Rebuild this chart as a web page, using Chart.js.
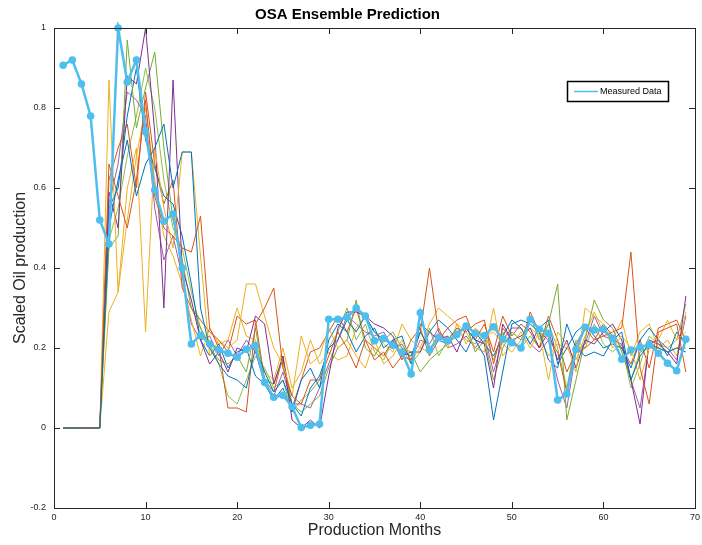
<!DOCTYPE html>
<html>
<head>
<meta charset="utf-8">
<title>OSA Ensemble Prediction</title>
<script src="https://cdn.jsdelivr.net/npm/chart.js@4.4.1/dist/chart.umd.min.js"></script>
<style>
  html, body { margin: 0; padding: 0; background: #ffffff; }
  #wrap { width: 702px; height: 545px; }
</style>
</head>
<body>
<div id="wrap"><canvas id="chart-osa" width="702" height="545"></canvas></div>
<script>
/* ═══════════════════════════════════════════
   OSA Ensemble Prediction — data
   ═══════════════════════════════════════════ */

var months = [];
for (var m = 1; m <= 69; m++) months.push(m);

var xTicks = [0, 10, 20, 30, 40, 50, 60, 70];
var yTicks = [-0.2, 0, 0.2, 0.4, 0.6, 0.8, 1];

var measured = [
  0.907, 0.92, 0.86, 0.78, 0.52,
  0.46, 1.0, 0.865, 0.92, 0.74,
  0.595, 0.517, 0.535, 0.40, 0.21,
  0.232, 0.21, 0.195, 0.187, 0.177,
  0.197, 0.206, 0.114, 0.077, 0.082,
  0.053, 0.001, 0.007, 0.01, 0.272,
  0.272, 0.276, 0.30, 0.28, 0.218,
  0.224, 0.207, 0.19, 0.135, 0.288,
  0.195, 0.226, 0.218, 0.234, 0.255,
  0.237, 0.231, 0.253, 0.222, 0.213,
  0.20, 0.272, 0.247, 0.237, 0.07,
  0.085, 0.197, 0.252, 0.245, 0.247,
  0.224, 0.172, 0.195, 0.202, 0.209,
  0.187, 0.162, 0.143, 0.222
];

// ensemble members (months 1..69)
var ensBlue1 = [
  0, 0, 0, 0, 0,
  0.50, 0.62, 0.72, 0.58, 0.66,
  0.70, 0.76, 0.60, 0.69, 0.69,
  0.30, 0.20, 0.16, 0.13, 0.12,
  0.10, 0.20, 0.14, 0.09, 0.12,
  0.06, 0.03, 0.10, 0.13, 0.20,
  0.22, 0.27, 0.24, 0.28, 0.24,
  0.22, 0.21, 0.19, 0.18, 0.24,
  0.20, 0.22, 0.21, 0.24, 0.25,
  0.22, 0.18, 0.02, 0.14, 0.26,
  0.27, 0.26, 0.24, 0.17, 0.15,
  0.26, 0.20, 0.18, 0.19, 0.18,
  0.22, 0.24, 0.12, 0.18, 0.21,
  0.20, 0.19, 0.20, 0.19
];
var ensOrange1 = [
  0, 0, 0, 0, 0,
  0.66, 0.58, 0.50, 0.62, 0.82,
  0.58, 0.50, 0.48, 0.45, 0.44,
  0.53, 0.25, 0.20, 0.05, 0.05,
  0.04, 0.26, 0.30, 0.35, 0.15,
  0.08, 0.06, 0.12, 0.12, 0.18,
  0.24, 0.20, 0.15, 0.22, 0.17,
  0.19, 0.15, 0.18, 0.17, 0.24,
  0.40, 0.24, 0.22, 0.25, 0.24,
  0.26, 0.27, 0.16, 0.25, 0.22,
  0.20, 0.29, 0.24, 0.22, 0.19,
  0.09, 0.21, 0.25, 0.22, 0.23,
  0.24, 0.25, 0.44, 0.15, 0.06,
  0.24, 0.25, 0.26, 0.14
];
var ensYellow1 = [
  0, 0, 0, 0, 0,
  0.87, 0.34, 0.60, 0.70, 0.24,
  0.70, 0.55, 0.45, 0.69, 0.69,
  0.43, 0.18, 0.22, 0.20, 0.22,
  0.36, 0.36, 0.28, 0.20, 0.16,
  0.08, 0.23, 0.16, 0.18, 0.25,
  0.20, 0.22, 0.18, 0.15, 0.22,
  0.16, 0.18, 0.22, 0.17, 0.20,
  0.26, 0.30, 0.28, 0.26, 0.24,
  0.20, 0.19, 0.30, 0.18, 0.21,
  0.24, 0.20, 0.24, 0.12, 0.24,
  0.21, 0.14, 0.30, 0.28, 0.26,
  0.20, 0.23, 0.20, 0.12, 0.20,
  0.22, 0.27, 0.22, 0.24
];
var ensPurple1 = [
  0, 0, 0, 0, 0,
  0.59, 0.50, 0.88, 0.86, 1.00,
  0.74, 0.30, 0.87, 0.40, 0.32,
  0.22, 0.16, 0.19, 0.14, 0.20,
  0.19, 0.28, 0.26, 0.11, 0.18,
  0.02, 0.00, 0.02, 0.00, 0.13,
  0.25, 0.29, 0.29, 0.28, 0.26,
  0.25, 0.23, 0.18, 0.19, 0.19,
  0.24, 0.22, 0.23, 0.19, 0.25,
  0.22, 0.21, 0.10, 0.26, 0.22,
  0.23, 0.25, 0.20, 0.24, 0.17,
  0.22, 0.15, 0.22, 0.21, 0.24,
  0.26, 0.22, 0.12, 0.01, 0.22,
  0.21, 0.19, 0.16, 0.33
];
var ensGreen1 = [
  0, 0, 0, 0, 0,
  0.45, 0.48, 0.97, 0.75, 0.85,
  0.94, 0.70, 0.52, 0.42, 0.30,
  0.25, 0.20, 0.17, 0.16, 0.18,
  0.14, 0.25, 0.12, 0.11, 0.17,
  0.06, 0.04, 0.06, 0.08, 0.15,
  0.20, 0.22, 0.32, 0.20, 0.18,
  0.22, 0.24, 0.20, 0.19, 0.14,
  0.17, 0.19, 0.21, 0.23, 0.26,
  0.19, 0.22, 0.12, 0.20, 0.24,
  0.22, 0.28, 0.22, 0.26, 0.36,
  0.02, 0.12, 0.22, 0.32, 0.27,
  0.25, 0.19, 0.12, 0.19, 0.20,
  0.20, 0.19, 0.20, 0.20
];
var ensBlue2 = [
  0, 0, 0, 0, 0,
  0.55, 0.60, 0.78, 0.90, 0.72,
  0.65, 0.58, 0.56, 0.48, 0.36,
  0.22, 0.18, 0.21, 0.15, 0.19,
  0.20, 0.13, 0.11, 0.07, 0.10,
  0.04, 0.12, 0.15, 0.10, 0.22,
  0.26, 0.24, 0.19, 0.23, 0.25,
  0.20, 0.22, 0.23, 0.16, 0.26,
  0.24, 0.27, 0.25, 0.22, 0.19,
  0.24, 0.21, 0.18, 0.23, 0.27,
  0.25, 0.21, 0.25, 0.27, 0.16,
  0.20, 0.24, 0.26, 0.23, 0.20,
  0.21, 0.20, 0.15, 0.22, 0.25,
  0.22, 0.18, 0.24, 0.21
];
var ensOrange2 = [
  0, 0, 0, 0, 0,
  0.62, 0.70, 0.76, 0.60, 0.84,
  0.66, 0.56, 0.62, 0.35, 0.30,
  0.27, 0.24, 0.22, 0.19, 0.28,
  0.26, 0.27, 0.12, 0.09, 0.18,
  0.05, 0.12, 0.19, 0.20, 0.24,
  0.28, 0.24, 0.30, 0.22, 0.20,
  0.18, 0.22, 0.17, 0.22, 0.25,
  0.18, 0.22, 0.25, 0.27, 0.28,
  0.22, 0.26, 0.19, 0.28, 0.23,
  0.26, 0.24, 0.20, 0.28, 0.22,
  0.14, 0.19, 0.20, 0.22, 0.26,
  0.23, 0.20, 0.16, 0.22, 0.15,
  0.25, 0.26, 0.27, 0.22
];
var ensYellow2 = [
  0, 0, 0, 0, 0,
  0.29, 0.34, 0.52, 0.68, 0.80,
  0.62, 0.48, 0.43, 0.36, 0.27,
  0.18, 0.25, 0.21, 0.22, 0.30,
  0.23, 0.22, 0.14, 0.12, 0.20,
  0.10, 0.14, 0.22, 0.16, 0.19,
  0.17, 0.18, 0.25, 0.28, 0.24,
  0.21, 0.19, 0.26, 0.22, 0.20,
  0.19, 0.24, 0.20, 0.26, 0.21,
  0.25, 0.23, 0.24, 0.21, 0.19,
  0.22, 0.25, 0.23, 0.18, 0.21,
  0.20, 0.17, 0.23, 0.29, 0.24,
  0.22, 0.27, 0.18, 0.24, 0.26,
  0.20, 0.22, 0.18, 0.29
];
var ensPurple2 = [
  0, 0, 0, 0, 0,
  0.56, 0.66, 0.84, 0.82, 0.78,
  0.55, 0.42, 0.48, 0.38, 0.26,
  0.22, 0.23, 0.18, 0.22, 0.18,
  0.22, 0.19, 0.11, 0.08, 0.14,
  0.06, 0.06, 0.05, 0.10, 0.16,
  0.22, 0.28, 0.26, 0.24, 0.23,
  0.24, 0.20, 0.21, 0.17, 0.22,
  0.21, 0.25, 0.20, 0.21, 0.23,
  0.20, 0.23, 0.14, 0.22, 0.25,
  0.25, 0.21, 0.19, 0.22, 0.12,
  0.05, 0.19, 0.21, 0.28, 0.23,
  0.22, 0.21, 0.12, 0.05, 0.21,
  0.22, 0.20, 0.17, 0.28
];
var ensGreen2 = [
  0, 0, 0, 0, 0,
  0.47, 0.55, 0.68, 0.78, 0.90,
  0.80, 0.62, 0.50, 0.45, 0.34,
  0.25, 0.21, 0.16, 0.08, 0.06,
  0.12, 0.18, 0.15, 0.10, 0.12,
  0.04, 0.07, 0.09, 0.12, 0.20,
  0.24, 0.30, 0.22, 0.26, 0.19,
  0.17, 0.22, 0.20, 0.16, 0.19,
  0.25, 0.18, 0.22, 0.25, 0.22,
  0.21, 0.24, 0.17, 0.24, 0.21,
  0.20, 0.23, 0.20, 0.26, 0.20,
  0.10, 0.22, 0.20, 0.26, 0.21,
  0.19, 0.21, 0.10, 0.16, 0.23,
  0.21, 0.20, 0.22, 0.31
];

var ensembles = [ensBlue1, ensOrange1, ensYellow1, ensPurple1, ensGreen1,
                 ensBlue2, ensOrange2, ensYellow2, ensPurple2, ensGreen2];
var ensColors = ['#0072BD', '#D95319', '#EDB120', '#7E2F8E', '#77AC30',
                 '#0072BD', '#D95319', '#EDB120', '#A05CAF', '#8DBE4C'];
var measuredColor = '#4DBEEE';
var axisColor = '#262626';
var fontFamily = '"Liberation Sans", Arial, Helvetica, sans-serif';

function toPoints(vals) {
  return vals.map(function (v, i) { return { x: months[i], y: v }; });
}

/* ─── Plugin: MATLAB style box, inward ticks, legend ─── */
var matlabAxes = {
  id: 'matlabAxes',
  afterDraw: function (chart) {
    var ctx = chart.ctx;
    var a = chart.chartArea;
    var xs = chart.scales.x, ys = chart.scales.y;
    var tl = 6;
    ctx.save();
    ctx.strokeStyle = axisColor;
    ctx.lineWidth = 1;
    ctx.strokeRect(Math.round(a.left) + 0.5, Math.round(a.top) + 0.5,
      Math.round(a.right - a.left), Math.round(a.bottom - a.top));
    ctx.beginPath();
    xTicks.forEach(function (t) {
      var px = Math.round(xs.getPixelForValue(t)) + 0.5;
      ctx.moveTo(px, a.bottom); ctx.lineTo(px, a.bottom - tl);
      ctx.moveTo(px, a.top); ctx.lineTo(px, a.top + tl);
    });
    yTicks.forEach(function (t) {
      var py = Math.round(ys.getPixelForValue(t)) + 0.5;
      ctx.moveTo(a.left, py); ctx.lineTo(a.left + tl, py);
      ctx.moveTo(a.right, py); ctx.lineTo(a.right - tl, py);
    });
    ctx.stroke();

    // legend box
    var bx = a.right - 128, by = a.top + 53, bw = 101, bh = 20;
    ctx.fillStyle = '#ffffff';
    ctx.fillRect(bx, by, bw, bh);
    ctx.lineWidth = 1.5;
    ctx.strokeStyle = '#000000';
    ctx.strokeRect(bx + 0.5, by + 0.5, bw, bh);
    ctx.strokeStyle = measuredColor;
    ctx.lineWidth = 1.5;
    ctx.beginPath();
    ctx.moveTo(bx + 7, by + 10.5);
    ctx.lineTo(bx + 31, by + 10.5);
    ctx.stroke();
    ctx.fillStyle = '#000000';
    ctx.font = '9px ' + fontFamily;
    ctx.textBaseline = 'middle';
    ctx.textAlign = 'left';
    ctx.fillText(chart.data.datasets[0].label, bx + 33, by + 10.5);
    ctx.restore();
  }
};

/* ─── Datasets ─── */
var datasets = [{
  label: 'Measured Data',
  data: toPoints(measured),
  borderColor: measuredColor,
  backgroundColor: measuredColor,
  borderWidth: 2.5,
  pointRadius: 3.8,
  pointHoverRadius: 3.8,
  pointBorderWidth: 0,
  clip: 6,
  order: 0
}];
ensembles.forEach(function (vals, i) {
  datasets.push({
    label: 'Member ' + (i + 1),
    data: toPoints(vals),
    borderColor: ensColors[i],
    borderWidth: 1,
    pointRadius: 0,
    clip: 2,
    order: 1
  });
});

new Chart(document.getElementById('chart-osa'), {
  type: 'line',
  data: { datasets: datasets },
  plugins: [matlabAxes],
  options: {
    responsive: false,
    animation: false,
    devicePixelRatio: 1,
    layout: { padding: { left: 0, right: 7, top: 0, bottom: 0 } },
    elements: { line: { tension: 0 } },
    plugins: {
      legend: { display: false },
      tooltip: { enabled: false },
      title: {
        display: true,
        text: 'OSA Ensemble Prediction',
        color: '#000000',
        font: { family: fontFamily, size: 15, weight: 'bold' },
        padding: { top: 6, bottom: 4 }
      }
    },
    scales: {
      x: {
        type: 'linear',
        min: 0,
        max: 70,
        afterFit: function (s) { s.height = 37; s.paddingRight = 0; s.paddingLeft = 0; },
        afterBuildTicks: function (s) { s.ticks = xTicks.map(function (v) { return { value: v }; }); },
        grid: { display: false, drawTicks: false },
        border: { display: false },
        ticks: { color: axisColor, padding: 4, maxRotation: 0, font: { family: fontFamily, size: 9 } },
        title: {
          display: true,
          text: 'Production Months',
          color: axisColor,
          font: { family: fontFamily, size: 16 },
          padding: { top: 0, bottom: 5 }
        }
      },
      y: {
        min: -0.2,
        max: 1,
        afterFit: function (s) { s.width = 54; },
        afterBuildTicks: function (s) { s.ticks = yTicks.map(function (v) { return { value: v }; }); },
        grid: { display: false, drawTicks: false },
        border: { display: false },
        ticks: {
          color: axisColor,
          padding: 8,
          font: { family: fontFamily, size: 9 },
          callback: function (v) { return String(Number(v.toFixed(1))); }
        },
        title: {
          display: true,
          text: 'Scaled Oil production',
          color: axisColor,
          font: { family: fontFamily, size: 16 },
          padding: { top: 11, bottom: 0 }
        }
      }
    }
  }
});
</script>
</body>
</html>
